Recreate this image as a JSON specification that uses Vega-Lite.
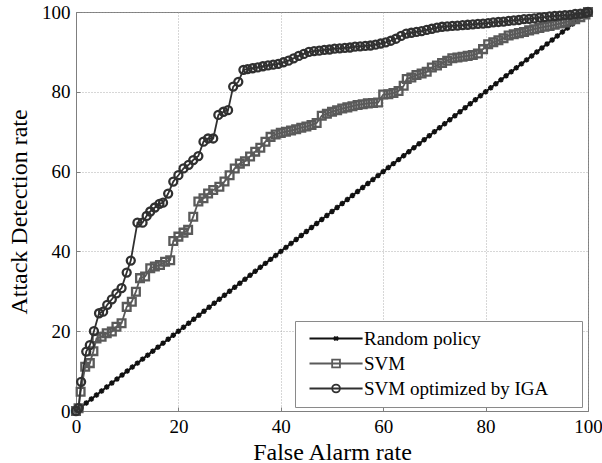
{
  "$schema": "https://vega.github.io/schema/vega-lite/v6.json",
  "width": 512,
  "height": 399,
  "autosize": "none",
  "padding": {"left": 76, "top": 12, "right": 14, "bottom": 52},
  "background": "white",
  "config": {
    "font": "Liberation Serif",
    "view": {"stroke": "#7f7f7f", "strokeWidth": 1},
    "axis": {
      "labelFont": "Liberation Serif",
      "titleFont": "Liberation Serif",
      "labelFontSize": 19,
      "titleFontSize": 24,
      "titleFontWeight": "normal",
      "labelColor": "#000",
      "titleColor": "#000",
      "domainColor": "#7f7f7f",
      "gridColor": "#9a9a9a",
      "gridDash": [1, 2],
      "gridWidth": 0.8,
      "ticks": true,
      "tickSize": -4,
      "tickColor": "#7f7f7f",
      "labelPadding": 10,
      "labelFlush": false,
      "labelOverlap": false
    },
    "legend": {
      "orient": "none",
      "legendX": 219,
      "legendY": 309,
      "padding": 8,
      "fillColor": "white",
      "strokeColor": "#8a8a8a",
      "strokeWidth": 1,
      "labelFont": "Liberation Serif",
      "labelFontSize": 19,
      "labelColor": "#000",
      "labelLimit": 400,
      "labelOffset": 42,
      "rowPadding": 5,
      "symbolSize": 36,
      "symbolStrokeWidth": 1.8,
      "symbolOpacity": 1,
      "titleOrient": "right",
      "titleColor": "white",
      "titleFontSize": 8,
      "titlePadding": 24
    }
  },
  "datasets": {
    "random": [
      {"x":0,"y":0},{"x":1,"y":1},{"x":2,"y":2},{"x":3,"y":3},{"x":4,"y":4},{"x":5,"y":5},{"x":6,"y":6},{"x":7,"y":7},{"x":8,"y":8},{"x":9,"y":9},
      {"x":10,"y":10},{"x":11,"y":11},{"x":12,"y":12},{"x":13,"y":13},{"x":14,"y":14},{"x":15,"y":15},{"x":16,"y":16},{"x":17,"y":17},{"x":18,"y":18},{"x":19,"y":19},
      {"x":20,"y":20},{"x":21,"y":21},{"x":22,"y":22},{"x":23,"y":23},{"x":24,"y":24},{"x":25,"y":25},{"x":26,"y":26},{"x":27,"y":27},{"x":28,"y":28},{"x":29,"y":29},
      {"x":30,"y":30},{"x":31,"y":31},{"x":32,"y":32},{"x":33,"y":33},{"x":34,"y":34},{"x":35,"y":35},{"x":36,"y":36},{"x":37,"y":37},{"x":38,"y":38},{"x":39,"y":39},
      {"x":40,"y":40},{"x":41,"y":41},{"x":42,"y":42},{"x":43,"y":43},{"x":44,"y":44},{"x":45,"y":45},{"x":46,"y":46},{"x":47,"y":47},{"x":48,"y":48},{"x":49,"y":49},
      {"x":50,"y":50},{"x":51,"y":51},{"x":52,"y":52},{"x":53,"y":53},{"x":54,"y":54},{"x":55,"y":55},{"x":56,"y":56},{"x":57,"y":57},{"x":58,"y":58},{"x":59,"y":59},
      {"x":60,"y":60},{"x":61,"y":61},{"x":62,"y":62},{"x":63,"y":63},{"x":64,"y":64},{"x":65,"y":65},{"x":66,"y":66},{"x":67,"y":67},{"x":68,"y":68},{"x":69,"y":69},
      {"x":70,"y":70},{"x":71,"y":71},{"x":72,"y":72},{"x":73,"y":73},{"x":74,"y":74},{"x":75,"y":75},{"x":76,"y":76},{"x":77,"y":77},{"x":78,"y":78},{"x":79,"y":79},
      {"x":80,"y":80},{"x":81,"y":81},{"x":82,"y":82},{"x":83,"y":83},{"x":84,"y":84},{"x":85,"y":85},{"x":86,"y":86},{"x":87,"y":87},{"x":88,"y":88},{"x":89,"y":89},
      {"x":90,"y":90},{"x":91,"y":91},{"x":92,"y":92},{"x":93,"y":93},{"x":94,"y":94},{"x":95,"y":95},{"x":96,"y":96},{"x":97,"y":97},{"x":98,"y":98},{"x":99,"y":99},
      {"x":100,"y":100}
    ],
    "svm": [
      {"x":0,"y":0},{"x":0.5,"y":0.7},{"x":0.9,"y":4.8},{"x":1.8,"y":11.1},{"x":2.7,"y":12},{"x":3.4,"y":15},{"x":4,"y":18.2},{"x":5,"y":18.6},{"x":6,"y":19.5},{"x":7,"y":19.9},
      {"x":7.9,"y":21.1},{"x":8.9,"y":22},{"x":9.9,"y":26.1},{"x":10.9,"y":27.4},{"x":11.7,"y":29.9},{"x":12.5,"y":33.3},{"x":13.5,"y":33.7},{"x":14.5,"y":35.8},{"x":15.4,"y":36.2},{"x":16.4,"y":36.6},
      {"x":17.4,"y":37.4},{"x":18.4,"y":37.8},{"x":19,"y":42.6},{"x":20,"y":43.7},{"x":21,"y":44.7},{"x":21.9,"y":45.4},{"x":22.9,"y":48.7},{"x":23.9,"y":52.5},{"x":24.9,"y":53.3},{"x":25.8,"y":54.5},
      {"x":26.8,"y":55.4},{"x":28,"y":56.2},{"x":29,"y":57.5},{"x":30,"y":59.1},{"x":31,"y":60.8},{"x":32,"y":62},{"x":33,"y":62.6},{"x":34,"y":63.8},{"x":35,"y":65},{"x":36,"y":66},
      {"x":37,"y":67.5},{"x":38,"y":68.7},{"x":39,"y":69.3},{"x":40,"y":69.7},{"x":41,"y":70},{"x":42,"y":70.3},{"x":43,"y":70.6},{"x":44,"y":71},{"x":45,"y":71.3},{"x":46,"y":71.7},
      {"x":47,"y":72.2},{"x":48,"y":74},{"x":49,"y":74.5},{"x":50,"y":75},{"x":51,"y":75.4},{"x":52,"y":75.8},{"x":53,"y":76.1},{"x":54,"y":76.4},{"x":55,"y":76.7},{"x":56,"y":76.9},
      {"x":57,"y":77.1},{"x":58,"y":77.2},{"x":59,"y":77.3},{"x":60,"y":79.3},{"x":61,"y":79.4},{"x":62,"y":79.7},{"x":63,"y":80.2},{"x":64,"y":81.5},{"x":64.6,"y":83.2},{"x":65.5,"y":83.6},
      {"x":66.5,"y":84.2},{"x":67.5,"y":84.6},{"x":68.5,"y":85},{"x":69.5,"y":86.1},{"x":70.5,"y":86.6},{"x":71.5,"y":87.2},{"x":72.5,"y":87.8},{"x":73.5,"y":88.4},{"x":74.5,"y":88.6},{"x":75.5,"y":88.8},
      {"x":76.5,"y":89},{"x":77.5,"y":89.2},{"x":78.5,"y":89.6},{"x":79.5,"y":90.7},{"x":80.5,"y":91.9},{"x":81.5,"y":92.4},{"x":82.5,"y":92.9},{"x":83.5,"y":93.4},{"x":84.5,"y":94.1},{"x":85.5,"y":94.4},
      {"x":86.5,"y":94.7},{"x":87.5,"y":95},{"x":88.5,"y":95.4},{"x":89.5,"y":95.7},{"x":90.5,"y":96},{"x":91.5,"y":96.3},{"x":92.5,"y":96.5},{"x":93.5,"y":96.8},{"x":94.5,"y":97.1},{"x":95.5,"y":97.4},
      {"x":96.5,"y":97.8},{"x":97.5,"y":98.2},{"x":98.5,"y":98.7},{"x":99.5,"y":99.4},{"x":100,"y":100}
    ],
    "iga": [
      {"x":0,"y":0},{"x":0.5,"y":0.7},{"x":1,"y":7.3},{"x":2,"y":14.9},{"x":2.7,"y":16.5},{"x":3.5,"y":20},{"x":4.5,"y":24.5},{"x":5.3,"y":24.9},{"x":6.1,"y":26.6},{"x":7,"y":28},
      {"x":7.9,"y":29.5},{"x":8.9,"y":30.8},{"x":9.9,"y":34.7},{"x":10.7,"y":37.7},{"x":12,"y":47.2},{"x":13,"y":47.2},{"x":13.8,"y":48.9},{"x":14.5,"y":50},{"x":15.4,"y":51},{"x":16.3,"y":51.9},
      {"x":17,"y":52.2},{"x":18,"y":54.5},{"x":19,"y":57.5},{"x":20,"y":59.1},{"x":21,"y":60.8},{"x":22,"y":61.7},{"x":22.9,"y":62.9},{"x":23.9,"y":63.9},{"x":24.9,"y":67.5},{"x":25.8,"y":68.3},
      {"x":26.8,"y":68.3},{"x":27.8,"y":74.2},{"x":28.8,"y":75},{"x":29.7,"y":75.4},{"x":30.7,"y":81.3},{"x":31.7,"y":82.5},{"x":32.7,"y":85.5},{"x":33.5,"y":85.7},{"x":34.5,"y":85.9},{"x":35.5,"y":86.1},
      {"x":36.5,"y":86.4},{"x":37.5,"y":86.6},{"x":38.5,"y":86.8},{"x":39.5,"y":87},{"x":40.5,"y":87.4},{"x":41.5,"y":87.8},{"x":42.5,"y":88.4},{"x":43.5,"y":89},{"x":44.5,"y":89.5},{"x":45.5,"y":90},
      {"x":46.5,"y":90.2},{"x":47.5,"y":90.3},{"x":48.5,"y":90.5},{"x":49.5,"y":90.6},{"x":50.5,"y":90.8},{"x":51.5,"y":90.9},{"x":52.5,"y":91},{"x":53.5,"y":91.1},{"x":54.5,"y":91.3},{"x":55.5,"y":91.4},
      {"x":56.5,"y":91.5},{"x":57.5,"y":91.6},{"x":58.5,"y":91.8},{"x":59.5,"y":92.1},{"x":60.5,"y":92.4},{"x":61.5,"y":92.8},{"x":62.5,"y":93.3},{"x":63.5,"y":94},{"x":64.5,"y":94.6},{"x":65.5,"y":94.8},
      {"x":66.5,"y":95},{"x":67.5,"y":95.2},{"x":68.5,"y":95.5},{"x":69.5,"y":95.8},{"x":70.5,"y":96.1},{"x":71.5,"y":96.3},{"x":72.5,"y":96.4},{"x":73.5,"y":96.5},{"x":74.5,"y":96.6},{"x":75.5,"y":96.7},
      {"x":76.5,"y":96.8},{"x":77.5,"y":96.9},{"x":78.5,"y":97},{"x":79.5,"y":97.1},{"x":80.5,"y":97.2},{"x":81.5,"y":97.4},{"x":82.5,"y":97.5},{"x":83.5,"y":97.6},{"x":84.5,"y":97.8},{"x":85.5,"y":97.9},
      {"x":86.5,"y":98},{"x":87.5,"y":98.2},{"x":88.5,"y":98.3},{"x":89.5,"y":98.4},{"x":90.5,"y":98.6},{"x":91.5,"y":98.7},{"x":92.5,"y":98.9},{"x":93.5,"y":99},{"x":94.5,"y":99.1},{"x":95.5,"y":99.2},
      {"x":96.5,"y":99.3},{"x":97.5,"y":99.5},{"x":98.5,"y":99.6},{"x":99.5,"y":99.8},{"x":100,"y":100}
    ],
    "legendkeys": [
      {"series":"Random policy","x":100,"y":100},
      {"series":"SVM","x":100,"y":100},
      {"series":"SVM optimized by IGA","x":100,"y":100}
    ]
  },
  "encoding": {
    "x": {
      "field": "x", "type": "quantitative",
      "scale": {"domain": [0, 100], "nice": false},
      "axis": {"values": [0, 20, 40, 60, 80, 100], "title": "False Alarm rate", "titlePadding": 4, "grid": true}
    },
    "y": {
      "field": "y", "type": "quantitative",
      "scale": {"domain": [0, 100], "nice": false},
      "axis": {"values": [0, 20, 40, 60, 80, 100], "title": "Attack Detection rate", "titlePadding": 10, "grid": true}
    }
  },
  "layer": [
    {
      "data": {"name": "random"},
      "mark": {
        "type": "line", "color": "#111111", "strokeWidth": 2,
        "point": {"shape": "M-1,0H1M0,-1V1M-0.7,-0.7L0.7,0.7M-0.7,0.7L0.7,-0.7", "filled": false, "size": 30, "strokeWidth": 1.5, "color": "#111111"}
      }
    },
    {
      "data": {"name": "svm"},
      "mark": {
        "type": "line", "color": "#5a5a5a", "strokeWidth": 1.8,
        "point": {"shape": "square", "filled": false, "size": 60, "strokeWidth": 2.3, "color": "#5a5a5a"}
      }
    },
    {
      "data": {"name": "iga"},
      "mark": {
        "type": "line", "color": "#303030", "strokeWidth": 1.8,
        "point": {"shape": "circle", "filled": false, "size": 64, "strokeWidth": 2.3, "color": "#303030"}
      }
    },
    {
      "data": {"name": "legendkeys"},
      "mark": {"type": "point", "filled": false, "opacity": 0},
      "encoding": {
        "color": {
          "field": "series", "type": "nominal",
          "scale": {"domain": ["Random policy", "SVM", "SVM optimized by IGA"], "range": ["#111111", "#5a5a5a", "#303030"]},
          "legend": {"title": ".", "symbolOpacity": 1}
        },
        "shape": {
          "field": "series", "type": "nominal",
          "scale": {
            "domain": ["Random policy", "SVM", "SVM optimized by IGA"],
            "range": [
              "M-1,0H16.7M7.2,-0.6L8.5,0.6M7.2,0.6L8.5,-0.6M7.85,-0.7V0.7",
              "M-1,0H16.7M6.55,-1.3H9.15V1.3H6.55Z",
              "M-1,0H16.7M6.55,0A1.3,1.3,0,1,1,9.15,0A1.3,1.3,0,1,1,6.55,0"
            ]
          },
          "legend": {"title": ".", "symbolOpacity": 1}
        }
      }
    }
  ]
}
